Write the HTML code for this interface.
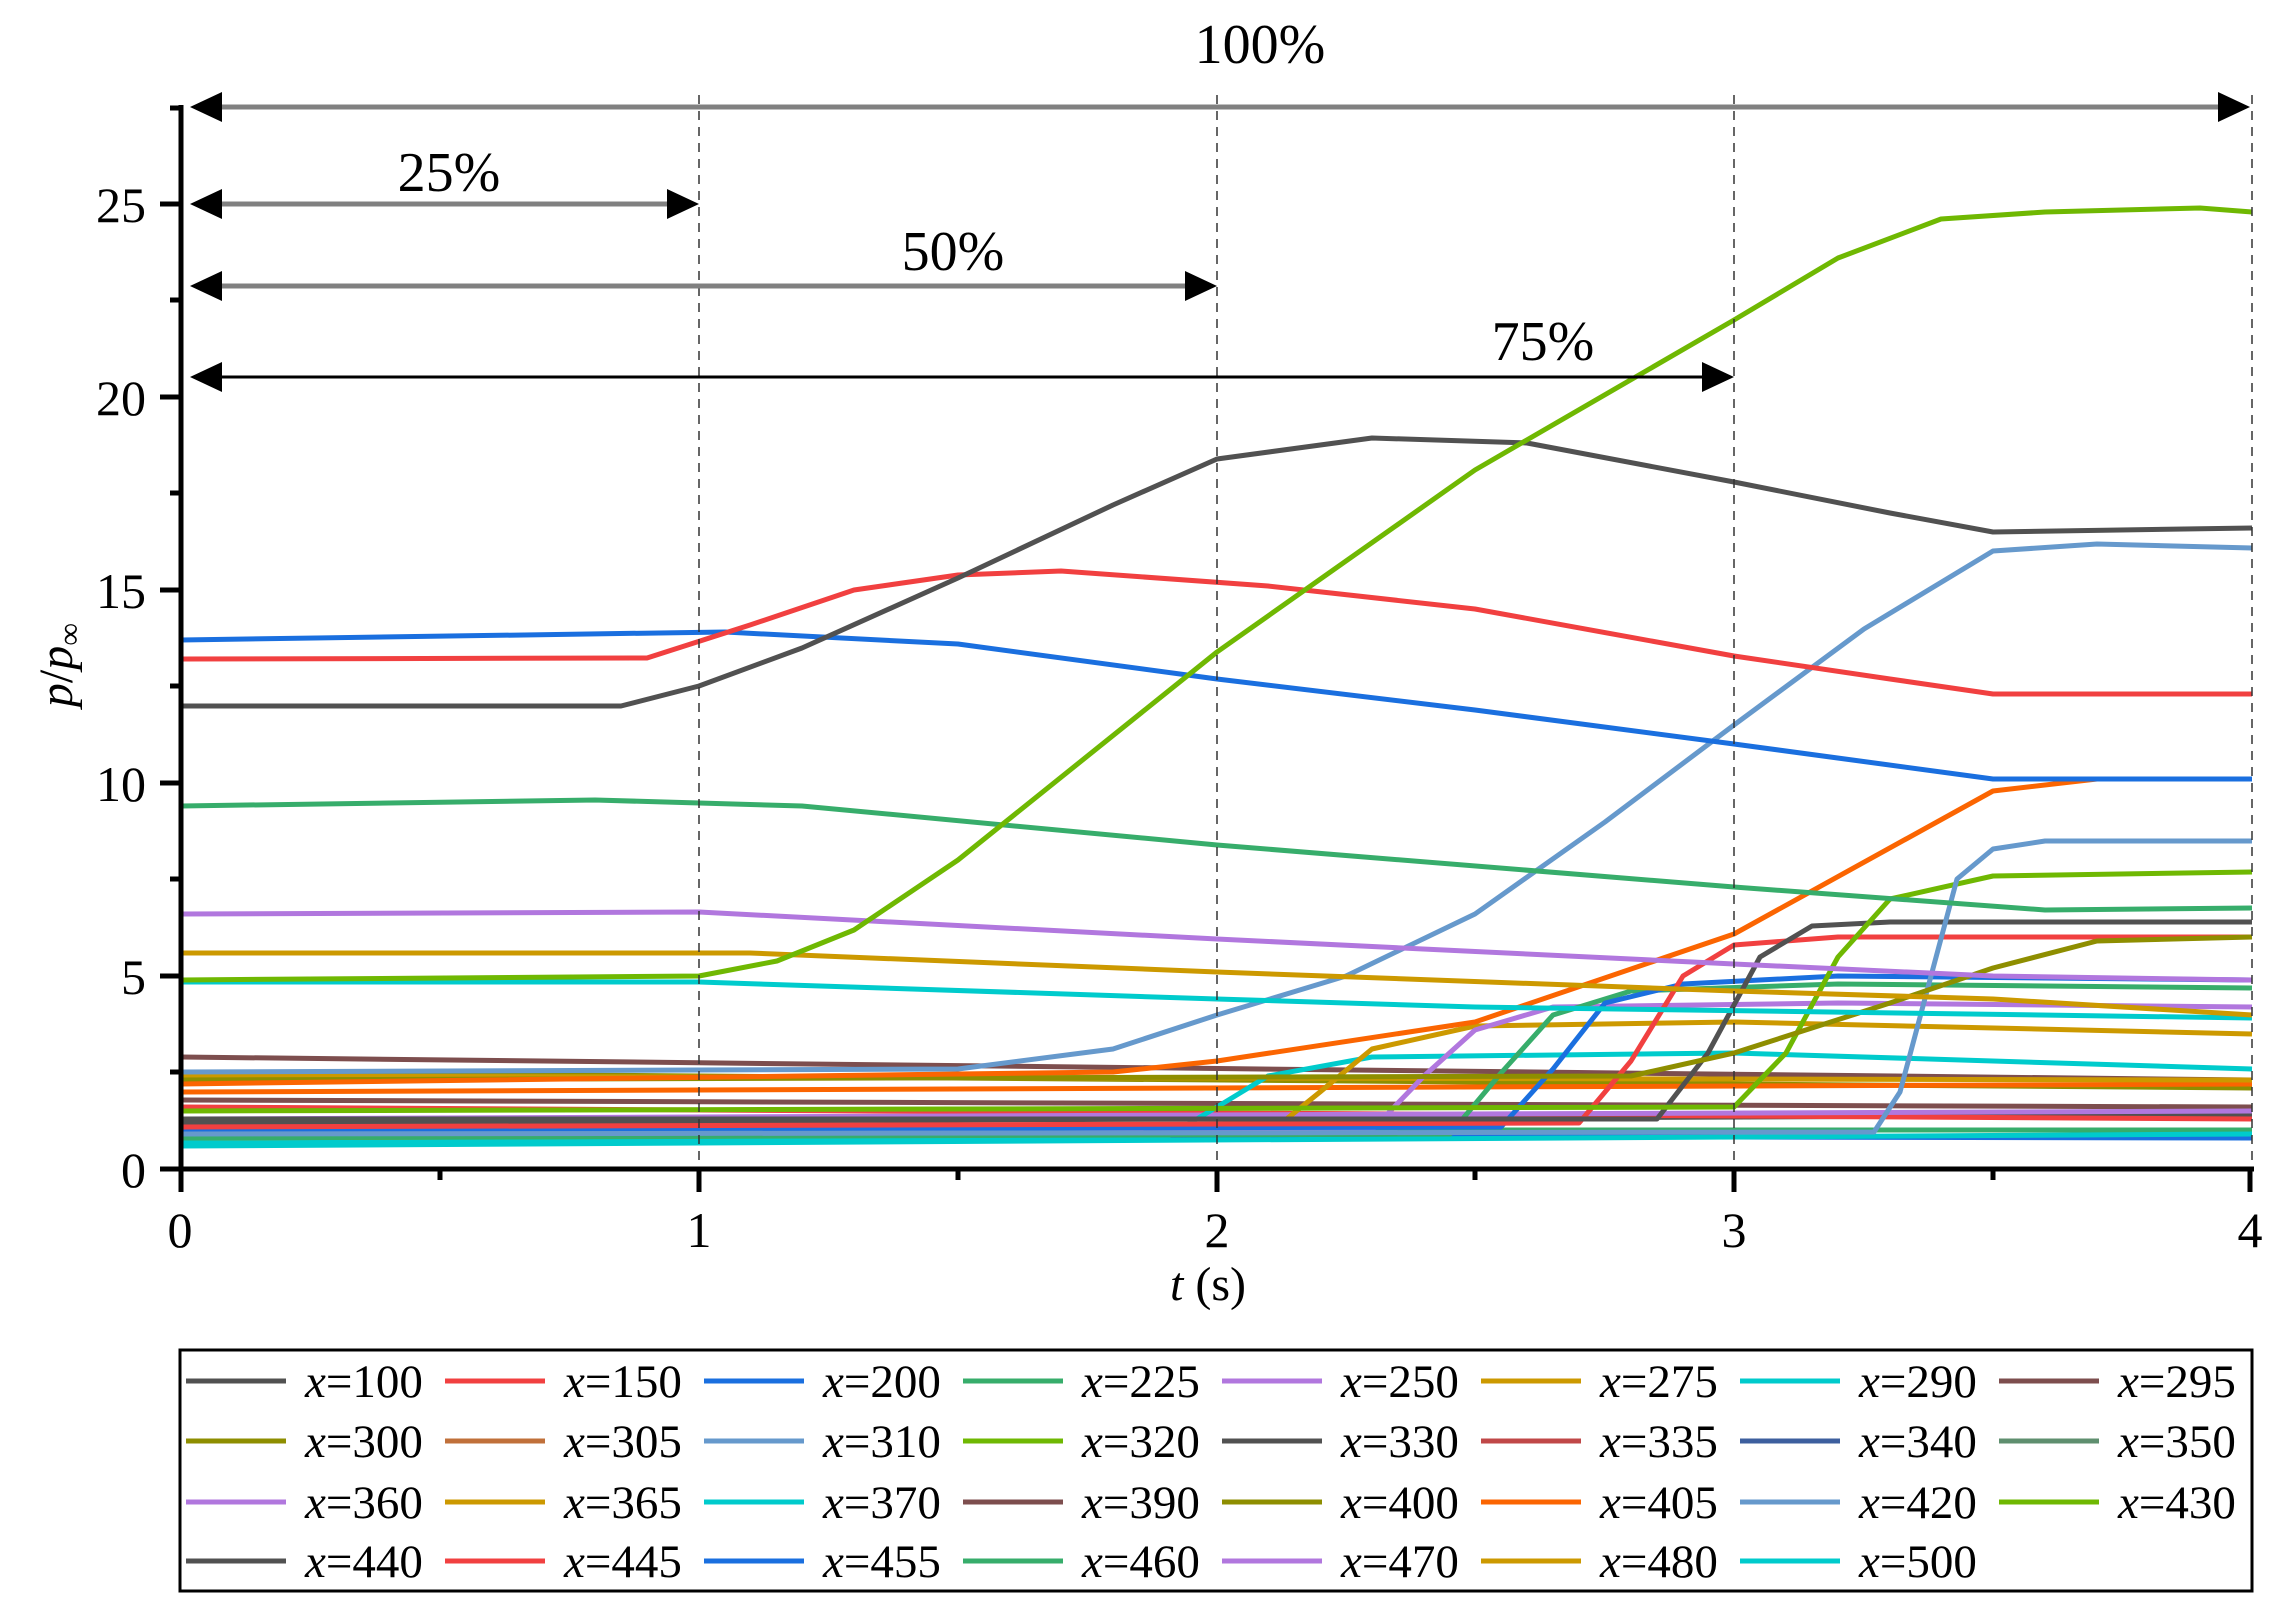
<!DOCTYPE html>
<html><head><meta charset="utf-8"><style>
html,body{margin:0;padding:0;background:#fff;}
svg{display:block;font-family:"Liberation Serif",serif;}
</style></head><body>
<svg width="2283" height="1618" viewBox="0 0 2283 1618" xmlns="http://www.w3.org/2000/svg">
<g fill="none" stroke-width="5" stroke-linejoin="round">
<polyline stroke="#7D4E4E" points="181,1057 2252,1080"/>
<polyline stroke="#8E8E00" points="181,1072 2252,1088"/>
<polyline stroke="#7D4E4E" points="181,1100 2252,1107"/>
<polyline stroke="#FB6501" points="181,1092 2252,1084"/>
<polyline stroke="#515151" points="181,1123 2252,1115"/>
<polyline stroke="#F14040" points="181,1107 2252,1119"/>
<polyline stroke="#1A6FDF" points="181,1134 2252,1138"/>
<polyline stroke="#37AD6B" points="181,1130 2252,1130"/>
<polyline stroke="#B177DE" points="181,1119 2252,1111"/>
<polyline stroke="#CC9900" points="181,1076 2252,1080"/>
<polyline stroke="#00CBCC" points="181,1146 2252,1134"/>
<polyline stroke="#00CBCC" points="181,1142 1165,1138 1217,1107 1268,1076 1372,1057 1734,1053 2252,1069"/>
<polyline stroke="#CC9900" points="181,1138 1268,1134 1320,1092 1372,1049 1475,1026 1734,1022 2252,1034"/>
<polyline stroke="#B177DE" points="181,1134 1372,1130 1424,1076 1475,1030 1553,1007 1838,1003 2252,1007"/>
<polyline stroke="#37AD6B" points="181,1138 1450,1134 1501,1073 1553,1015 1631,991 1838,984 2252,988"/>
<polyline stroke="#1A6FDF" points="181,1130 1501,1127 1553,1069 1605,1003 1683,984 1838,976 2252,980"/>
<polyline stroke="#F14040" points="181,1127 1579,1123 1631,1061 1683,976 1734,945 1838,937 2252,937"/>
<polyline stroke="#515151" points="181,1119 1657,1119 1708,1053 1760,957 1812,926 1890,922 2252,922"/>
<polyline stroke="#6FB802" points="181,1111 1734,1107 1786,1053 1838,957 1890,899 1993,876 2252,872"/>
<polyline stroke="#6699CC" points="181,1134 1874,1132 1900,1092 1931,976 1957,879 1993,849 2045,841 2252,841"/>
<polyline stroke="#8E8E00" points="181,1080 1631,1076 1734,1053 1890,1003 1993,968 2097,941 2252,937"/>
<polyline stroke="#FB6501" points="181,1084 1113,1072 1217,1061 1475,1022 1734,934 1993,791 2097,779 2252,779"/>
<polyline stroke="#6699CC" points="181,1072 958,1069 1113,1049 1217,1015 1346,976 1475,914 1605,822 1734,725 1864,629 1993,551 2097,544 2252,548"/>
<polyline stroke="#00CBCC" points="181,982 699,982 1217,999 1475,1007 2252,1018"/>
<polyline stroke="#CC9900" points="181,953 750,953 1217,972 1734,991 1993,999 2252,1015"/>
<polyline stroke="#B177DE" points="181,914 699,912 1217,939 1734,964 1993,976 2252,980"/>
<polyline stroke="#37AD6B" points="181,806 595,800 802,806 1217,845 1734,887 2045,910 2252,908"/>
<polyline stroke="#1A6FDF" points="181,640 725,632 958,644 1217,679 1475,710 1734,744 1993,779 2252,779"/>
<polyline stroke="#F14040" points="181,659 647,658 750,625 854,590 958,575 1061,571 1268,586 1475,609 1734,656 1890,679 1993,694 2252,694"/>
<polyline stroke="#515151" points="181,706 621,706 699,686 802,648 958,578 1113,505 1217,459 1372,438 1527,443 1734,482 1890,513 1993,532 2252,528"/>
<polyline stroke="#6FB802" points="181,980 699,976 777,961 854,930 958,860 1217,652 1475,470 1734,320 1838,258 1941,219 2045,212 2200,208 2252,212"/>
</g>
<g stroke="#333" stroke-width="1.5" stroke-dasharray="9,7">
<line x1="699" y1="95" x2="699" y2="1169"/>
<line x1="1217" y1="95" x2="1217" y2="1169"/>
<line x1="1734" y1="95" x2="1734" y2="1169"/>
<line x1="2252" y1="95" x2="2252" y2="1169"/>
</g>
<g stroke="#000" stroke-width="5" fill="none">
<line x1="181" y1="105" x2="181" y2="1171"/>
<line x1="160" y1="1169" x2="2254" y2="1169"/>
</g>
<g stroke="#000" stroke-width="5">
<line x1="160" y1="976" x2="181" y2="976"/>
<line x1="160" y1="783" x2="181" y2="783"/>
<line x1="160" y1="590" x2="181" y2="590"/>
<line x1="160" y1="397" x2="181" y2="397"/>
<line x1="160" y1="204" x2="181" y2="204"/>
<line x1="170" y1="1072" x2="181" y2="1072"/>
<line x1="170" y1="879" x2="181" y2="879"/>
<line x1="170" y1="686" x2="181" y2="686"/>
<line x1="170" y1="493" x2="181" y2="493"/>
<line x1="170" y1="300" x2="181" y2="300"/>
<line x1="170" y1="108" x2="181" y2="108"/>
<line x1="181" y1="1169" x2="181" y2="1192"/>
<line x1="699" y1="1169" x2="699" y2="1192"/>
<line x1="1217" y1="1169" x2="1217" y2="1192"/>
<line x1="1734" y1="1169" x2="1734" y2="1192"/>
<line x1="2250" y1="1169" x2="2250" y2="1192"/>
<line x1="440" y1="1169" x2="440" y2="1180"/>
<line x1="958" y1="1169" x2="958" y2="1180"/>
<line x1="1475" y1="1169" x2="1475" y2="1180"/>
<line x1="1993" y1="1169" x2="1993" y2="1180"/>
</g>
<g font-size="50" fill="#000" text-anchor="end">
<text x="146" y="1187">0</text>
<text x="146" y="994">5</text>
<text x="146" y="801">10</text>
<text x="146" y="608">15</text>
<text x="146" y="415">20</text>
<text x="146" y="222">25</text>
</g>
<g font-size="50" fill="#000" text-anchor="middle">
<text x="180" y="1247">0</text>
<text x="699" y="1247">1</text>
<text x="1217" y="1247">2</text>
<text x="1734" y="1247">3</text>
<text x="2250" y="1247">4</text>
</g>
<text x="1208" y="1300" font-size="48" text-anchor="middle"><tspan font-style="italic">t</tspan> (s)</text>
<text transform="translate(72,665) rotate(-90)" font-size="48" text-anchor="middle"><tspan font-style="italic">p</tspan>/<tspan font-style="italic">p</tspan><tspan font-size="32" dy="8">∞</tspan></text>
<g stroke="#808080" stroke-width="5">
<line x1="210" y1="107" x2="2225" y2="107"/>
<line x1="210" y1="204" x2="675" y2="204"/>
<line x1="210" y1="286" x2="1192" y2="286"/>
</g>
<line x1="210" y1="377" x2="1710" y2="377" stroke="#000" stroke-width="3"/>
<g fill="#000">
<polygon points="190,107 222,92 222,122"/>
<polygon points="2250,107 2218,92 2218,122"/>
<polygon points="190,204 222,189 222,219"/>
<polygon points="699,204 667,189 667,219"/>
<polygon points="190,286 222,271 222,301"/>
<polygon points="1217,286 1185,271 1185,301"/>
<polygon points="190,377 222,362 222,392"/>
<polygon points="1734,377 1702,362 1702,392"/>
</g>
<g font-size="56" fill="#000" text-anchor="middle">
<text x="1260" y="63">100%</text>
<text x="449" y="191">25%</text>
<text x="953" y="270">50%</text>
<text x="1543" y="360">75%</text>
</g>
<rect x="180" y="1350" width="2072" height="241" fill="none" stroke="#000" stroke-width="3"/>
<g stroke-width="5">
<line x1="186" x2="286" y1="1381" y2="1381" stroke="#515151"/>
<line x1="445" x2="545" y1="1381" y2="1381" stroke="#F14040"/>
<line x1="704" x2="804" y1="1381" y2="1381" stroke="#1A6FDF"/>
<line x1="963" x2="1063" y1="1381" y2="1381" stroke="#37AD6B"/>
<line x1="1222" x2="1322" y1="1381" y2="1381" stroke="#B177DE"/>
<line x1="1481" x2="1581" y1="1381" y2="1381" stroke="#CC9900"/>
<line x1="1740" x2="1840" y1="1381" y2="1381" stroke="#00CBCC"/>
<line x1="1999" x2="2099" y1="1381" y2="1381" stroke="#7D4E4E"/>
<line x1="186" x2="286" y1="1441" y2="1441" stroke="#8E8E00"/>
<line x1="445" x2="545" y1="1441" y2="1441" stroke="#C0703A"/>
<line x1="704" x2="804" y1="1441" y2="1441" stroke="#6699CC"/>
<line x1="963" x2="1063" y1="1441" y2="1441" stroke="#6FB802"/>
<line x1="1222" x2="1322" y1="1441" y2="1441" stroke="#515151"/>
<line x1="1481" x2="1581" y1="1441" y2="1441" stroke="#C04848"/>
<line x1="1740" x2="1840" y1="1441" y2="1441" stroke="#3D5F9E"/>
<line x1="1999" x2="2099" y1="1441" y2="1441" stroke="#5F8F6F"/>
<line x1="186" x2="286" y1="1502" y2="1502" stroke="#B177DE"/>
<line x1="445" x2="545" y1="1502" y2="1502" stroke="#CC9900"/>
<line x1="704" x2="804" y1="1502" y2="1502" stroke="#00CBCC"/>
<line x1="963" x2="1063" y1="1502" y2="1502" stroke="#7D4E4E"/>
<line x1="1222" x2="1322" y1="1502" y2="1502" stroke="#8E8E00"/>
<line x1="1481" x2="1581" y1="1502" y2="1502" stroke="#FB6501"/>
<line x1="1740" x2="1840" y1="1502" y2="1502" stroke="#6699CC"/>
<line x1="1999" x2="2099" y1="1502" y2="1502" stroke="#6FB802"/>
<line x1="186" x2="286" y1="1561" y2="1561" stroke="#515151"/>
<line x1="445" x2="545" y1="1561" y2="1561" stroke="#F14040"/>
<line x1="704" x2="804" y1="1561" y2="1561" stroke="#1A6FDF"/>
<line x1="963" x2="1063" y1="1561" y2="1561" stroke="#37AD6B"/>
<line x1="1222" x2="1322" y1="1561" y2="1561" stroke="#B177DE"/>
<line x1="1481" x2="1581" y1="1561" y2="1561" stroke="#CC9900"/>
<line x1="1740" x2="1840" y1="1561" y2="1561" stroke="#00CBCC"/>
</g>
<g font-size="47" fill="#000">
<text x="305" y="1397"><tspan font-style="italic">x</tspan>=100</text>
<text x="564" y="1397"><tspan font-style="italic">x</tspan>=150</text>
<text x="823" y="1397"><tspan font-style="italic">x</tspan>=200</text>
<text x="1082" y="1397"><tspan font-style="italic">x</tspan>=225</text>
<text x="1341" y="1397"><tspan font-style="italic">x</tspan>=250</text>
<text x="1600" y="1397"><tspan font-style="italic">x</tspan>=275</text>
<text x="1859" y="1397"><tspan font-style="italic">x</tspan>=290</text>
<text x="2118" y="1397"><tspan font-style="italic">x</tspan>=295</text>
<text x="305" y="1457"><tspan font-style="italic">x</tspan>=300</text>
<text x="564" y="1457"><tspan font-style="italic">x</tspan>=305</text>
<text x="823" y="1457"><tspan font-style="italic">x</tspan>=310</text>
<text x="1082" y="1457"><tspan font-style="italic">x</tspan>=320</text>
<text x="1341" y="1457"><tspan font-style="italic">x</tspan>=330</text>
<text x="1600" y="1457"><tspan font-style="italic">x</tspan>=335</text>
<text x="1859" y="1457"><tspan font-style="italic">x</tspan>=340</text>
<text x="2118" y="1457"><tspan font-style="italic">x</tspan>=350</text>
<text x="305" y="1518"><tspan font-style="italic">x</tspan>=360</text>
<text x="564" y="1518"><tspan font-style="italic">x</tspan>=365</text>
<text x="823" y="1518"><tspan font-style="italic">x</tspan>=370</text>
<text x="1082" y="1518"><tspan font-style="italic">x</tspan>=390</text>
<text x="1341" y="1518"><tspan font-style="italic">x</tspan>=400</text>
<text x="1600" y="1518"><tspan font-style="italic">x</tspan>=405</text>
<text x="1859" y="1518"><tspan font-style="italic">x</tspan>=420</text>
<text x="2118" y="1518"><tspan font-style="italic">x</tspan>=430</text>
<text x="305" y="1577"><tspan font-style="italic">x</tspan>=440</text>
<text x="564" y="1577"><tspan font-style="italic">x</tspan>=445</text>
<text x="823" y="1577"><tspan font-style="italic">x</tspan>=455</text>
<text x="1082" y="1577"><tspan font-style="italic">x</tspan>=460</text>
<text x="1341" y="1577"><tspan font-style="italic">x</tspan>=470</text>
<text x="1600" y="1577"><tspan font-style="italic">x</tspan>=480</text>
<text x="1859" y="1577"><tspan font-style="italic">x</tspan>=500</text>
</g>
</svg>
</body></html>
